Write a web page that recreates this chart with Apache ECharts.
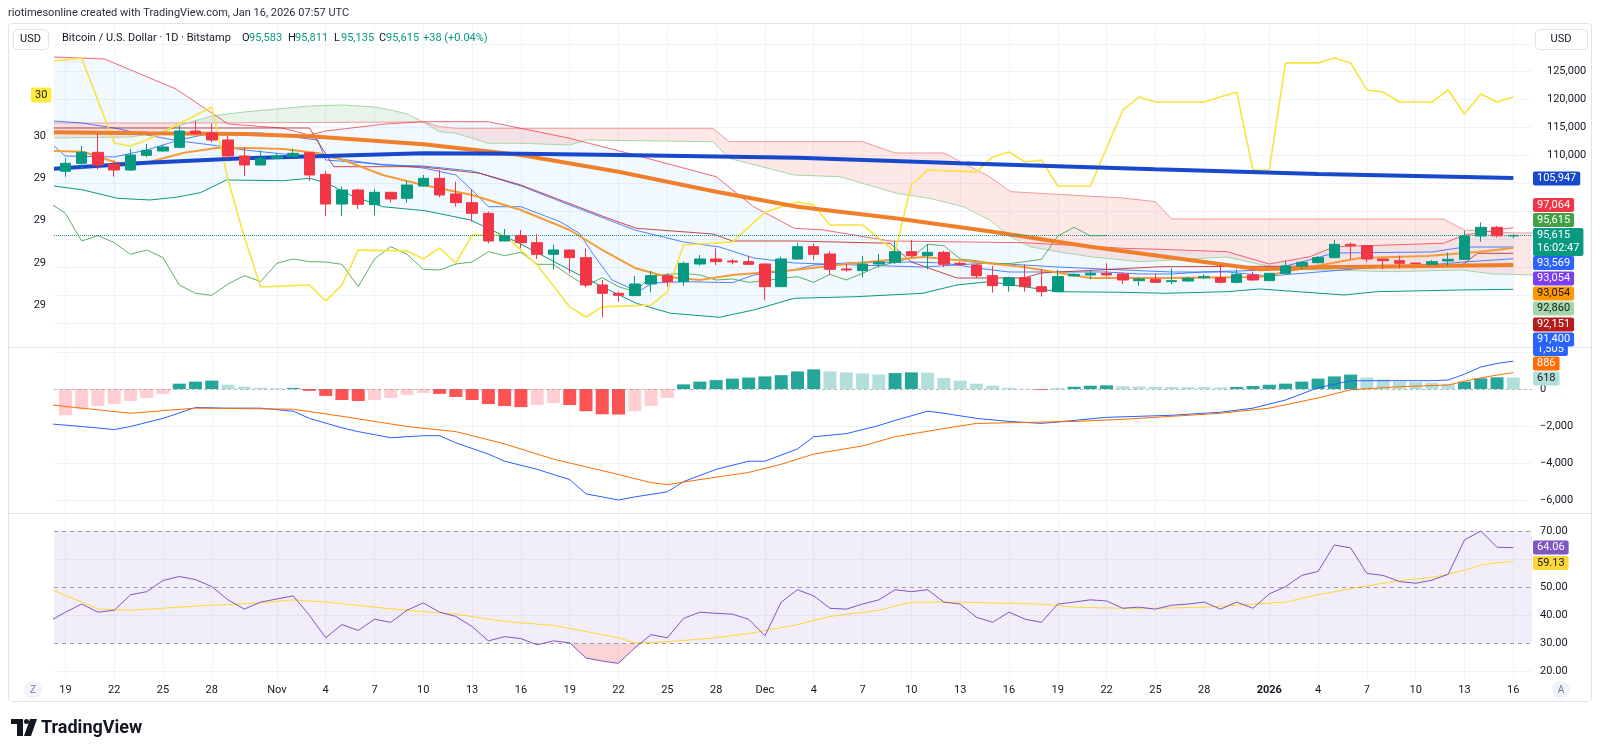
<!DOCTYPE html>
<html>
<head>
<meta charset="utf-8">
<title>Bitcoin / U.S. Dollar · 1D · Bitstamp</title>
<script src="https://cdn.jsdelivr.net/npm/echarts@6.0.0/dist/echarts.min.js"></script>
<style>
  html, body { margin: 0; padding: 0; background: #ffffff; }
  #chart { width: 1600px; height: 756px; }
</style>
</head>
<body>
<div id="chart"></div>
<script>
/* day index 0 = 19 Oct 2025 ... 89 = 16 Jan 2026 */

// daily candles from day 0: [open, high, low, close]
var candles = [
  [107143,109472,106187,108576],[108576,111682,107501,110547],[110547,113952,107501,108277],
  [108397,109054,106187,107381],[107381,111145,107200,110070],[110010,112040,109651,110906],
  [110786,111861,110667,111503],[111443,115266,111264,114370],[114370,116162,113800,113892],
  [114011,115744,112339,112757],[112757,113474,109293,109890],[109890,111443,106306,108277],
  [108277,110846,108200,109472],[109472,110368,109412,109890],[109771,111145,109700,110368],
  [110488,110600,105411,106486],[106606,107202,99139,101289],[101289,104395,99139,103798],
  [103798,104037,100393,101229],[101170,103917,99258,103380],[103380,103450,101588,102185],
  [102305,105411,101528,104694],[104515,106486,104400,105888],[105888,107381,102484,102902],
  [103081,105291,100811,101528],[101528,103917,98124,99617],[99617,99915,94241,94659],
  [94659,96810,94600,95615],[95615,96630,93345,94361],[94361,95914,91434,92270],
  [92270,93942,89582,93046],[93046,93100,88865,91673],[91673,93345,86357,86775],
  [86775,87671,80982,85282],[85282,85580,83789,84924],[84864,88388,84800,86954],
  [86954,89284,85461,88447],[88447,88865,86476,87372],[87372,90956,86596,90657],
  [90538,92150,90239,91434],[91434,93345,90358,90956],[91075,91434,90478,90896],
  [90956,92031,90358,90478],[90538,90600,84088,86476],[86476,91852,86400,91434],
  [91434,94361,91254,93644],[93644,94122,91254,92270],[92330,92748,88567,89582],
  [89641,90538,89164,89463],[89343,91971,88148,90538],[90538,92330,89940,90896],
  [90836,94659,90538,92748],[92748,94838,91732,92031],[92031,94122,89582,92629],
  [92629,92927,89940,90478],[90657,90956,90179,90478],[90358,90538,87969,88447],
  [88447,90179,85401,86655],[86655,88268,85580,88088],[88088,90478,85580,86476],
  [86476,89582,84684,85580],[85580,89463,85500,88268],[88388,88865,88268,88686],
  [88567,89463,87790,88865],[88865,90657,88268,88567],[88746,89044,86954,87671],
  [87551,88148,86655,87850],[87790,88746,87200,87252],[87372,89761,86954,87551],
  [87492,88268,87372,87969],[88088,88686,87850,88268],[88088,90358,87073,87252],
  [87252,89582,87073,88686],[88567,89164,87492,87671],[87551,88900,87500,88865],
  [88865,91135,88567,90179],[90179,90956,89582,90836],[90776,91971,90657,91673],
  [91673,94838,91600,94062],[94062,94361,91434,93823],[93823,93942,90836,91434],
  [91434,91553,89582,91135],[91135,92031,89761,90657],[90716,90776,90538,90597],
  [90478,91254,90358,90956],[91075,92569,90179,91374],[91374,96511,91300,95555],
  [95555,98004,94539,97108],[97108,97347,95316,95583],[95583,95811,95135,95615]
];
var lastClose = 95615;

// overlay lines on the price scale, [day, price]
var smaLong = [[-0.7,107600],[5,108690],[11,109480],[16,109890],[22,110370],[28,110300],[34,110070],[45,109585],[55,108580],[67,107506],[77,106660],[89,105947]];
var smaMid = [[-0.7,114140],[5,113960],[11,113830],[15.5,113350],[22,111990],[28,110070],[34,107080],[40,103490],[45,100800],[51,98725],[57,96320],[63,93640],[67.6,91840],[71.4,90360],[73.4,89590],[77.5,89945],[83.7,90180],[89,90357]];
var emaShort = [[-0.7,110785],[1.1,110660],[3.2,108635],[5.2,108868],[7.3,110481],[9.3,111323],[11.4,111323],[13.4,111144],[15.5,110427],[17.1,109173],[19.5,106485],[22,104693],[25,102901],[28,100213],[31,96629],[33,93045],[35,89819],[37,88206],[39,87669],[41,88565],[44.8,89461],[48.6,90715],[52.7,91791],[54.8,91253],[58.9,89998],[63,88027],[67.6,88027],[73.4,88206],[76.5,89998],[79.6,91611],[83.7,91970],[86.8,92686],[89,93403]];
var bbUpper = [[-0.7,127630],[2.4,127272],[6.8,121896],[10,115624],[13.3,114907],[15,113653],[16,114369],[19.7,115624],[22,116036],[26,116036],[31,113061],[35,110069],[40,106180],[42.3,100804],[44.8,96933],[46.6,96629],[50.7,94658],[59,94353],[65,93350],[67.3,93170],[71.4,92740],[74,90536],[76.5,91844],[78,93636],[84.7,94245],[86,95733],[89,97064]];
var bbBasis = [[-0.7,116161],[1,115803],[3,114907],[5,113653],[7,112577],[9,111861],[11,110965],[13.4,110248],[16,109710],[19.5,108277],[22,108097],[25,107201],[28,104513],[31,101109],[35,96629],[38,94478],[40.2,93583],[42.3,91611],[44.8,90715],[48.6,90357],[52.7,89998],[56.8,90715],[61,89998],[65,89461],[68,89103],[71.4,89103],[74,88386],[77,89103],[80,89819],[83,90178],[86,90894],[89,91485]];
var bbLower = [[-0.7,104513],[1.1,103797],[3.2,102309],[5.2,102005],[6.8,102489],[8.3,103313],[9.9,105589],[13.4,105463],[15,105893],[16.1,104997],[17.5,102901],[19.5,100804],[22.1,100087],[24.9,98421],[27.9,94245],[31,89461],[33,86468],[35.1,83493],[37.2,81701],[40.2,80985],[42.3,82293],[44.8,84390],[48.6,84676],[52.7,85285],[54.8,86773],[56.8,87364],[61,85572],[65,85464],[67.6,85285],[71.4,85572],[73.4,86056],[78.6,84981],[80.6,85572],[85.8,85877],[89,86002]];
var tenkan = [[-0.7,111681],[0,109889],[3,109710],[5,110965],[7,112757],[9,114011],[12,114011],[14,113294],[15.5,112757],[16,109173],[20,108277],[22,107739],[24,106485],[25,103797],[26,100804],[28,100804],[30.4,98116],[31.6,96037],[32.4,92453],[33.6,87669],[35.2,85572],[36.1,87131],[38.2,87364],[41,87185],[42.3,88565],[44.8,89461],[46,90357],[48,90715],[52,90894],[54,90715],[56,89819],[58,89103],[64,89103],[66,88745],[68,88745],[70,89103],[74,89461],[76,90894],[78,92507],[84,92686],[86,93583],[89,93583]];
var kijun = [[-0.7,114907],[15,114907],[16.5,107972],[21.8,107972],[25.5,106789],[28,104693],[33.1,99012],[35.1,96933],[39.8,95912],[41,94658],[44.8,94658],[50.7,94245],[52,90894],[54.8,88027],[58.9,88027],[60,88923],[67.3,90052],[85.8,90231],[86.8,92453],[89,92453]];
var spanA = [[-0.7,113115],[4,113294],[6,114190],[7.5,115803],[9,117057],[11,117774],[13,118312],[15,118849],[17,119029],[19,118670],[20,118132],[21,117416],[22,115982],[23,114244],[24,113958],[26,112165],[28,112165],[31,111861],[32,112757],[39.8,112452],[40.8,109477],[44.8,106485],[47.6,106180],[51.1,103205],[53.1,102309],[55.2,100804],[56.8,98421],[58.1,95428],[59.3,93636],[61,92740],[63,91844],[66,90948],[71.4,91791],[73.9,90178],[75.5,89586],[81.6,89156],[85.8,89461],[87.8,88744],[89,88690],[90.2,88565]];
var spanB = [[-0.7,115803],[7.5,115803],[22,115982],[23,115140],[24,114853],[39.8,114853],[40.8,112452],[49,112452],[51,110427],[54,110427],[56.8,106180],[58.1,103492],[65,102363],[67,101700],[68,98600],[84.7,98600],[86,96629],[89,96091],[90.2,96091]];
// lagging span, one value per day starting at day -1
var lagging = [101528,99617,94659,95615,94361,92270,93046,91673,86775,85282,84924,86954,88447,87372,90657,91434,90956,90896,90478,86476,91434,93644,92270,89582,89463,90538,90896,92748,92031,92629,90478,90478,88447,86655,88088,86476,85580,88268,88686,88865,88567,87671,87850,87252,87551,87969,88268,87252,88686,87671,88865,90179,90836,91673,94062,93823,91434,91135,90657,90597,90956,91374,95555,97108,95583,95615];
// yellow study on the left scale, [day, value]
var leftStudy = [[-0.7,30.355],[1,30.369],[3,29.967],[4,29.953],[5,29.981],[9,30.137],[10,29.792],[11,29.522],[12,29.285],[15,29.295],[16,29.219],[17,29.295],[18,29.460],[21,29.456],[22,29.418],[23,29.470],[24,29.399],[25,29.531],[27,29.531],[29,29.389],[31,29.191],[32,29.143],[33,29.191],[36,29.200],[37,29.262],[38,29.484],[41,29.498],[43,29.640],[45,29.688],[46,29.673],[47,29.579],[49,29.579],[51,29.451],[52,29.768],[53,29.839],[56,29.830],[57,29.901],[58,29.924],[59,29.877],[60,29.886],[61,29.763],[63,29.763],[65,30.123],[66,30.185],[67,30.161],[70,30.161],[72,30.208],[73,29.839],[74,29.839],[75,30.346],[77,30.346],[78,30.369],[79,30.346],[80,30.218],[81,30.208],[82,30.161],[84,30.161],[85,30.218],[86,30.104],[87,30.199],[88,30.161],[89,30.185]];

// MACD pane, histogram one value per day from day 0
var macdHist = [-1421,-1090,-924,-815,-649,-484,-263,289,399,454,234,124,68,40,60,-100,-373,-594,-649,-594,-484,-318,-208,-263,-429,-594,-815,-924,-980,-869,-759,-869,-1200,-1366,-1380,-1200,-924,-484,250,400,480,560,620,680,750,950,1062,950,895,840,785,860,900,880,600,454,289,178,68,13,-43,20,120,178,200,150,130,120,110,100,100,90,110,160,230,290,400,560,680,780,620,509,400,380,340,280,394,578,632,618];
var macdLine = [[-1,-1880],[1,-2028],[3,-2193],[4,-2028],[6,-1587],[8,-1000],[10,-1035],[12,-1035],[14,-1200],[15,-1587],[17,-2100],[18,-2303],[20,-2634],[22,-2524],[23,-2524],[24,-2910],[26,-3517],[27,-3903],[29,-4344],[31,-4896],[32,-5668],[34,-5999],[35,-5833],[37,-5557],[38,-5006],[40,-4344],[42,-3903],[43,-3903],[45,-3241],[46,-2579],[48,-2414],[50,-1973],[51,-1697],[53,-1200],[54,-1311],[56,-1587],[58,-1752],[60,-1862],[62,-1697],[64,-1531],[66,-1476],[68,-1421],[69,-1366],[71,-1256],[73,-1035],[75,-594],[77,63],[79,449],[81,449],[82,449],[84,449],[85,486],[86,800],[87,1189],[88,1380],[89,1505]];
var signalLine = [[-1,-850],[4,-1311],[8,-1035],[14,-1091],[17,-1476],[21,-2028],[24,-2303],[27,-2966],[30,-3793],[34,-4620],[36,-5061],[37,-5171],[39,-4896],[42,-4510],[44,-4068],[46,-3517],[49,-3076],[51,-2579],[54,-2138],[56,-1862],[59,-1807],[62,-1752],[65,-1641],[68,-1476],[71,-1311],[74,-1035],[77,-484],[79,-43],[82,124],[85,216],[86,420],[87,600],[88,750],[89,886]];

// RSI pane, one value per day starting at day -1
var rsi = [37.8,41.1,44.0,41.1,41.8,47.3,48.4,52.4,53.8,52.7,50.2,45.5,42.2,44.7,45.8,46.9,40.0,32.0,36.7,34.6,38.6,37.5,41.8,44.4,41.1,39.6,36.0,30.9,32.4,31.7,29.5,30.9,30.2,24.8,23.7,22.9,28.4,33.1,32.0,38.9,41.1,40.7,40.4,38.6,32.7,44.7,49.1,46.9,42.5,42.2,44.0,45.5,49.1,48.4,49.1,44.7,44.0,39.3,37.5,41.1,38.6,37.5,44.0,44.7,45.5,45.1,42.5,42.9,42.2,43.6,44.0,44.7,42.2,44.7,42.5,47.6,50.2,54.2,55.6,65.0,64.0,54.9,54.2,52.0,51.4,52.5,54.6,66.8,70.0,64.2,64.06];
var rsiMa = [[-1,49.5],[1,44.7],[2,42.2],[4,41.8],[6,42.5],[8,43.3],[12,44.4],[14,45.5],[16,44.7],[19,42.9],[21,41.8],[24,40.4],[27,37.8],[30,36.4],[34,32.0],[35,30.2],[37,30.6],[40,32.0],[42,33.5],[45,36.7],[47,39.6],[50,41.8],[52,44.7],[55,44.7],[57,44.4],[60,44.0],[62,42.9],[65,42.5],[67,42.5],[70,42.9],[72,43.6],[75,44.7],[77,47.3],[80,50.5],[82,52.3],[84,53.5],[85,54.6],[86,56.1],[87,57.9],[88,58.7],[89,59.13]];

// time axis
var labelDays = [0,3,6,9,13,16,19,22,25,28,31,34,37,40,43,46,49,52,55,58,61,64,67,70,74,77,80,83,86,89];
var labelTexts = ['19','22','25','28','Nov','4','7','10','13','16','19','22','25','28','Dec','4','7','10','13','16','19','22','25','28','2026','4','7','10','13','16'];

// value axes
var priceTicks = [80000,85000,90000,95000,100000,105000,110000,115000,120000,125000,130000];
var priceLabels = [110000,115000,120000,125000];
var leftLabels = [29.2,29.4,29.6,29.8,30.0];
var macdTicks = [-6000,-4000,-2000,0,2000];
var macdLabels = [-6000,-4000,-2000,0];
var rsiTicks = [20,40,60];
var rsiLabels = [20,30,40,50,70];
var rsiLevels = [70,50,30];

// last-value tags on the right scale
var tagTexts = ['1,505','886','618','64.06','59.13','105,947','97,064','95,615','95,615\n16:02:47','93,569','93,054','93,054','92,860','92,151','91,400'];
var tagColors = ['#2962ff','#ff6d00','#b2dfdb','#7e57c2','#fdd835','#1848cc','#f23645','#43a047','#089981','#2962ff','#7b3ff2','#ff9800','#a5d6a7','#b71c1c','#2962ff'];
var tagInk = ['#fff','#fff','#131722','#fff','#131722','#fff','#fff','#fff','#fff','#fff','#fff','#131722','#131722','#fff','#fff'];
var tagTops = [342,356.5,371.5,540.5,556,171.5,198,213,228,256,271.5,286.5,301.5,317.5,332.5];

var chart = echarts.init(document.getElementById('chart'));

var FONT = 'Roboto, "Noto Sans", sans-serif';
var INK = '#131722';
var GRID_LINE = '#f0f3fa';
var XMIN = -0.7, XMAX = 90.15;

function perDay(start, vals) {
  return vals.map(function (v, i) { return [start + i, v]; });
}
function between(arr, a, b) {
  return arr.filter(function (p) { return p[0] >= a && p[0] <= b; });
}
function band(top, bottom) {
  return top.concat(bottom.slice().reverse());
}
// parts of a curve that dip under a level, closed along the level
function underLevel(pts, level) {
  var polys = [], cur = null;
  for (var i = 0; i < pts.length; i++) {
    var p = pts[i], below = p[1] < level;
    if (i > 0) {
      var q = pts[i - 1], qb = q[1] < level;
      if (below !== qb) {
        var t = (level - q[1]) / (p[1] - q[1]);
        var cx = q[0] + t * (p[0] - q[0]);
        if (below) { cur = [[cx, level]]; } else { cur.push([cx, level]); polys.push(cur); cur = null; }
      }
    }
    if (below) { if (!cur) cur = [[p[0], level]]; cur.push(p); }
  }
  if (cur) { cur.push([cur[cur.length - 1][0], level]); polys.push(cur); }
  return polys;
}

function fillSeries(polys, xi, yi, z) {
  return {
    type: 'custom', xAxisIndex: xi, yAxisIndex: yi, silent: true, clip: true, z: z || 1,
    data: [[0, 0]],
    renderItem: function (params, api) {
      return {
        type: 'group',
        children: polys.map(function (p) {
          return {
            type: 'polygon',
            shape: { points: p.pts.map(function (q) { return api.coord(q); }) },
            style: { fill: p.color }
          };
        })
      };
    }
  };
}
function lineSeries(data, color, width, xi, yi, z, opacity) {
  return {
    type: 'line', data: data, xAxisIndex: xi, yAxisIndex: yi,
    symbol: 'none', silent: true, z: z || 3,
    lineStyle: { color: color, width: width, opacity: opacity == null ? 1 : opacity }
  };
}

function xAxisFor(gi, withLabels) {
  return {
    type: 'value', gridIndex: gi, min: XMIN, max: XMAX,
    axisLine: { show: false },
    axisTick: { show: false, customValues: labelDays },
    splitLine: { show: true, lineStyle: { color: GRID_LINE, width: 1 } },
    axisLabel: withLabels ? {
      customValues: labelDays, color: INK, fontSize: 11, fontFamily: FONT, margin: 6,
      formatter: function (v) {
        var t = labelTexts[labelDays.indexOf(Math.round(v))];
        return t === '2026' ? '{b|2026}' : t;
      },
      rich: { b: { fontWeight: 'bold', fontSize: 11, color: INK, fontFamily: FONT } }
    } : { show: false }
  };
}
function yAxisFor(gi, pos, min, max, labels, ticks, fmt, split, margin) {
  return {
    type: 'value', gridIndex: gi, position: pos, min: min, max: max,
    axisLine: { show: false },
    axisTick: { show: false, customValues: ticks },
    splitLine: { show: split, lineStyle: { color: GRID_LINE, width: 1 } },
    axisLabel: { customValues: labels, formatter: fmt, color: INK, fontSize: 11, fontFamily: FONT, margin: margin || 8 }
  };
}
function thousands(v) {
  return v === 0 ? '0' : v.toLocaleString('en-US').replace('-', '\u2212');
}

// ---- series ----
var series = [];

// bollinger fill and ichimoku cloud
series.push(fillSeries([
  { pts: band(bbUpper, bbLower), color: 'rgba(33,150,243,0.06)' },
  { pts: band(between(spanB, -1, 7.5), between(spanA, -1, 7.5)), color: 'rgba(244,67,54,0.12)' },
  { pts: band(between(spanA, 7.5, 22), between(spanB, 7.5, 22)), color: 'rgba(67,160,71,0.12)' },
  { pts: band(between(spanB, 22, 91), between(spanA, 22, 91)), color: 'rgba(244,67,54,0.12)' }
], 0, 0, 1));

series.push(lineSeries(spanA, '#a5d6a7', 1, 0, 0, 2));
series.push(lineSeries(spanB, '#ef9a9a', 1, 0, 0, 2));
series.push(lineSeries(bbLower, '#089981', 1, 0, 0, 2));
series.push(lineSeries(bbUpper, '#f23645', 1, 0, 0, 2, 0.75));
series.push(lineSeries(bbBasis, '#2962ff', 1, 0, 0, 2, 0.8));
series.push(lineSeries(tenkan, '#2962ff', 1, 0, 0, 2, 0.8));
series.push(lineSeries(kijun, '#b71c1c', 1, 0, 0, 2, 0.8));
series.push(lineSeries(perDay(-1, lagging), '#43a047', 1, 0, 0, 2, 0.85));
series.push(lineSeries(emaShort, '#f39c38', 2, 0, 0, 3));
series.push(lineSeries(leftStudy, '#f9e33d', 1.6, 0, 1, 3));
series.push(lineSeries(smaMid, '#ef7f2a', 4, 0, 0, 4));
series.push(lineSeries(smaLong, '#1848cc', 4, 0, 0, 4));

series.push({
  type: 'candlestick', xAxisIndex: 0, yAxisIndex: 0, z: 6, silent: true,
  data: candles.map(function (c, i) { return [i, c[0], c[3], c[2], c[1]]; }),
  encode: { x: 0, y: [1, 2, 3, 4] },
  barWidth: 11,
  itemStyle: { color: '#089981', color0: '#f23645', borderColor: '#089981', borderColor0: '#f23645', borderWidth: 1 },
  markLine: {
    silent: true, symbol: 'none', label: { show: false },
    lineStyle: { color: '#089981', type: 'dotted', width: 1 },
    data: [{ yAxis: lastClose }]
  }
});

// MACD
var histColors = macdHist.map(function (v, i) {
  var prev = i > 0 ? macdHist[i - 1] : -Infinity;
  if (v >= 0) return prev < v ? '#26a69a' : '#b2dfdb';
  return prev < v ? '#ffcdd2' : '#ff5252';
});
series.push({
  type: 'bar', xAxisIndex: 1, yAxisIndex: 2, barWidth: 13, silent: true, z: 2, clip: true,
  data: macdHist.map(function (v, i) { return { value: [i, v], itemStyle: { color: histColors[i] } }; }),
  markLine: {
    silent: true, symbol: 'none', label: { show: false },
    lineStyle: { color: '#787b86', type: [3, 3], width: 1, opacity: 0.5 },
    data: [{ yAxis: 0 }]
  }
});
series.push(lineSeries(macdLine, '#2962ff', 1, 1, 2, 3));
series.push(lineSeries(signalLine, '#ff6d00', 1, 1, 2, 3));

// RSI
var rsiPts = perDay(-1, rsi);
series.push(fillSeries(underLevel(rsiPts, 30).map(function (p) {
  return { pts: p, color: 'rgba(242,54,69,0.22)' };
}), 2, 3, 1));
var rsiMaSeries = lineSeries(rsiMa, '#fdd835', 1, 2, 3, 2);
rsiMaSeries.markArea = {
  silent: true, itemStyle: { color: 'rgba(126,87,194,0.1)' },
  data: [[{ yAxis: 30 }, { yAxis: 70 }]]
};
rsiMaSeries.markLine = {
  silent: true, symbol: 'none', label: { show: false },
  lineStyle: { color: '#787b86', type: [4, 4], width: 1, opacity: 0.7 },
  data: rsiLevels.map(function (v) { return { yAxis: v }; })
};
series.push(rsiMaSeries);
series.push(lineSeries(rsiPts, '#7e57c2', 1, 2, 3, 3));

// ---- decorations ----
var g = [];
function text(x, y, str, o) {
  o = o || {};
  var st = {
    text: str, fill: o.color || INK,
    font: (o.weight || 'normal') + ' ' + (o.size || 11) + 'px ' + FONT,
    align: o.align || 'left', verticalAlign: o.valign || 'middle',
    textAlign: o.align || 'left', textVerticalAlign: o.valign || 'middle'
  };
  if (o.bg) { st.backgroundColor = o.bg; st.padding = o.pad || [1, 4]; st.borderRadius = 2; }
  if (o.lh) st.lineHeight = o.lh;
  g.push({ type: 'text', x: x, y: y, z: o.z || 100, silent: true, style: st });
}

g.push({ type: 'rect', silent: true, z: 90, shape: { x: 8.5, y: 23.5, width: 1583, height: 678, r: 3 },
  style: { fill: 'transparent', stroke: '#e0e3eb', lineWidth: 1 } });
[347.5, 513.5].forEach(function (y) {
  g.push({ type: 'line', silent: true, z: 90, shape: { x1: 9, y1: y, x2: 1591, y2: y },
    style: { stroke: '#e0e3eb', lineWidth: 1 } });
});

text(8, 13, 'riotimesonline created with TradingView.com, Jan 16, 2026 07:57 UTC', { color: '#2a2e39' });

// USD boxes
[[13, 29, 35], [1535, 29, 52]].forEach(function (b) {
  g.push({ type: 'rect', silent: true, z: 95, shape: { x: b[0] + 0.5, y: b[1] + 0.5, width: b[2], height: 20, r: 4 },
    style: { fill: '#ffffff', stroke: '#e0e3eb', lineWidth: 1 } });
  text(b[0] + b[2] / 2, b[1] + 10.5, 'USD', { align: 'center', z: 96 });
});

// legend line
text(62, 38, 'Bitcoin / U.S. Dollar \u00b7 1D \u00b7 Bitstamp');
var ohlcKeys = ['O', 'H', 'L', 'C'];
var ohlcVals = ['95,583', '95,811', '95,135', '95,615'];
var ohlcX = [242, 288, 334, 379];
ohlcKeys.forEach(function (k, i) {
  text(ohlcX[i], 38, k);
  text(ohlcX[i] + 7, 38, ohlcVals[i], { color: '#089981' });
});
text(423, 38, '+38 (+0.04%)', { color: '#089981' });

// left scale tag
text(31, 95, '30', { bg: '#ffeb3b', pad: [2, 4] });

// right scale tags
tagTexts.forEach(function (t, i) {
  var multi = t.indexOf('\n') >= 0;
  text(1533, tagTops[i], t, {
    bg: tagColors[i], color: tagInk[i], valign: 'top', pad: [1, 4], lh: multi ? 13 : 12,
    z: i < 5 ? 101 : 102
  });
});

// scale mode buttons
[[33, 'Z'], [1561, 'A']].forEach(function (b) {
  g.push({ type: 'circle', silent: true, z: 95, shape: { cx: b[0], cy: 690, r: 9 }, style: { fill: '#f0f3fa' } });
  text(b[0], 690, b[1], { align: 'center', color: '#787b86', size: 10, z: 96 });
});

// TradingView logo
g.push({ type: 'polygon', silent: true, z: 100, shape: { points: [[11, 719], [23, 719], [23, 736], [17, 736], [17, 724], [11, 724]] }, style: { fill: INK } });
g.push({ type: 'circle', silent: true, z: 100, shape: { cx: 26.5, cy: 721.5, r: 2.5 }, style: { fill: INK } });
g.push({ type: 'polygon', silent: true, z: 100, shape: { points: [[30, 719], [37, 719], [31, 736], [24, 736]] }, style: { fill: INK } });
text(41, 728, 'TradingView', { weight: 'bold', size: 18 });

var option = {
  animation: false,
  backgroundColor: '#ffffff',
  textStyle: { fontFamily: FONT },
  grid: [
    { left: 54, right: 68, top: 26, height: 321 },
    { left: 54, right: 68, top: 347, height: 166 },
    { left: 54, right: 68, top: 513, height: 166 }
  ],
  xAxis: [xAxisFor(0, false), xAxisFor(1, false), xAxisFor(2, true)],
  yAxis: [
    yAxisFor(0, 'right', 75662, 133185, priceLabels, priceTicks, thousands, true, 15),
    yAxisFor(0, 'left', 29.0012, 30.5207, leftLabels, leftLabels, function (v) { return String(Math.floor(v + 1e-9)); }, false),
    yAxisFor(1, 'right', -6702, 2270, macdLabels, macdTicks, thousands, true),
    yAxisFor(2, 'right', 17.33, 76.4, rsiLabels, rsiTicks, function (v) { return v.toFixed(2); }, true)
  ],
  series: series,
  graphic: { elements: g }
};
chart.setOption(option);
</script>
</body>
</html>
